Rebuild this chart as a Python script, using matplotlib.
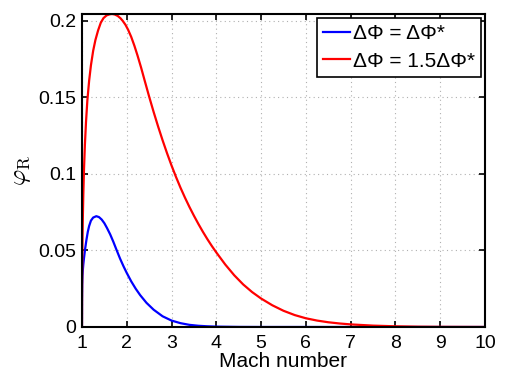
import numpy as np
import matplotlib
matplotlib.use('Agg')
import matplotlib.pyplot as plt

plt.rcParams['font.family'] = ['Liberation Sans', 'DejaVu Sans']
plt.rcParams['mathtext.fontset'] = 'cm'

# values (Mach number, phi_R)
mach_red = [1.0, 1.002, 1.006, 1.012, 1.02, 1.03, 1.045, 1.065, 1.09, 1.12, 1.16, 1.2, 1.25,
            1.3, 1.36, 1.42, 1.48, 1.55, 1.62, 1.67, 1.73, 1.8, 1.86, 1.91, 1.97, 2.03, 2.1,
            2.17, 2.24, 2.32, 2.4, 2.5, 2.6, 2.7, 2.8, 2.9, 3.0, 3.1, 3.2, 3.3, 3.4, 3.5,
            3.6, 3.7, 3.8, 3.9, 4.0, 4.2, 4.4, 4.6, 4.8, 5.0, 5.25, 5.5, 5.75, 6.0, 6.25,
            6.5, 6.75, 7.0, 7.5, 8.0, 8.5, 9.0, 10.0]
phi_red = [0.0, 0.025, 0.042, 0.058, 0.073, 0.087, 0.103, 0.119, 0.134, 0.148, 0.161, 0.171, 0.1805,
           0.1875, 0.1938, 0.1988, 0.2018, 0.2036, 0.2043, 0.2045, 0.2042, 0.2032, 0.2017, 0.2, 0.1975, 0.1942, 0.1895,
           0.1838, 0.1774, 0.1695, 0.161, 0.1505, 0.1405, 0.131, 0.122, 0.1135, 0.1055, 0.098, 0.091, 0.0845, 0.0784, 0.0727,
           0.0673, 0.0622, 0.0574, 0.0529, 0.0487, 0.0408, 0.0338, 0.0278, 0.0228, 0.0186, 0.0142, 0.0106, 0.0078, 0.0057, 0.0042,
           0.0031, 0.0023, 0.0017, 0.0009, 0.00045, 0.0002, 0.0001, 0.00002]

mach_blue = [1.0, 1.002, 1.006, 1.012, 1.02, 1.03, 1.045, 1.07, 1.1, 1.13, 1.16, 1.2, 1.25,
             1.32, 1.38, 1.44, 1.5, 1.56, 1.63, 1.7, 1.77, 1.85, 1.93, 2.0, 2.1, 2.2, 2.3,
             2.44, 2.6, 2.8, 3.0, 3.2, 3.4, 3.6, 3.8, 4.0, 4.5, 5.0, 10.0]
phi_blue = [0.0, 0.018, 0.028, 0.0335, 0.0375, 0.041, 0.045, 0.051, 0.057, 0.0622, 0.066, 0.0695, 0.0715,
            0.0724, 0.0718, 0.0702, 0.0678, 0.0646, 0.0605, 0.0557, 0.0505, 0.0447, 0.0395, 0.0353, 0.0298, 0.025, 0.0208,
            0.0158, 0.0113, 0.007, 0.0042, 0.0025, 0.0014, 0.0008, 0.00045, 0.00025, 0.00006, 0.00001, 0.0]

labels = ['ΔΦ = ΔΦ*', 'ΔΦ = 1.5ΔΦ*']

fig = plt.figure(figsize=(5.07, 3.71), dpi=100)
ax = fig.add_axes([0.1617, 0.1186, 0.7949, 0.8437])

ax.plot(mach_blue, phi_blue, color='#0000ff', lw=1.6, label=labels[0])
ax.plot(mach_red, phi_red, color='#ff0000', lw=1.6, label=labels[1])

ax.set_xlim(1, 10)
ax.set_ylim(0, 0.2045)
ax.set_xticks(range(1, 11))
ax.set_yticks([0, 0.05, 0.1, 0.15, 0.2])
ax.set_yticklabels(['0', '0.05', '0.1', '0.15', '0.2'])
ax.grid(True, linestyle=(0, (1, 3)), color='#b0b0b0', lw=0.8)
ax.tick_params(direction='in', top=True, right=True, length=4, width=1.2, labelsize=14)
ax.tick_params(axis='y', pad=4)
ax.tick_params(axis='x', pad=6)
for s in ax.spines.values():
    s.set_linewidth(1.5)

ax.set_xlabel('Mach number', fontsize=15, labelpad=0)
ax.set_ylabel(r'$\varphi_{\mathrm{R}}$', fontsize=18, labelpad=4)

leg = ax.legend(loc='upper right', fontsize=15, fancybox=False, edgecolor='black',
                framealpha=1, handlelength=1.3, handletextpad=0.1, borderpad=0.3,
                labelspacing=0.4, borderaxespad=0.2)
leg.get_frame().set_linewidth(1.2)

fig.savefig('out.png', dpi=100)
